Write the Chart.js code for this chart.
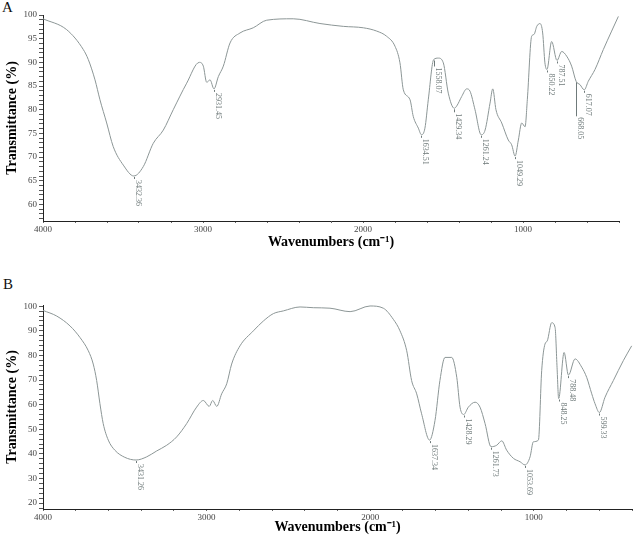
<!DOCTYPE html>
<html>
<head>
<meta charset="utf-8">
<script src="https://cdn.jsdelivr.net/npm/chart.js@4.4.1/dist/chart.umd.min.js"></script>
<style>
  html, body { margin:0; padding:0; background:#fff; }
  body { width:634px; height:539px; position:relative; overflow:hidden; }
  .panel { position:absolute; left:0; width:634px; }
  .letter { position:absolute; font-family:"Liberation Serif","Times New Roman",serif; font-size:15px; line-height:15px; color:#111; }
</style>
</head>
<body>
<div class="letter" style="left:2px;top:0px;">A</div>
<div class="letter" style="left:3px;top:277px;">B</div>
<div class="panel" style="top:0px;height:251px;"><canvas id="chartA" width="634" height="251"></canvas></div>
<div class="panel" style="top:270px;height:269px;"><canvas id="chartB" width="634" height="269"></canvas></div>
<script>
// ---------- Data ----------
const xTickLabels = [4000, 3000, 2000, 1000];
const yTickLabelsA = [60, 65, 70, 75, 80, 85, 90, 95, 100];
const yTickLabelsB = [20, 30, 40, 50, 60, 70, 80, 90, 100];

// Panel A spectrum: wavenumber (cm-1) and transmittance (%)
const wavenumbersA = [4000,3852,3748,3717,3675,3644,3602,3561,3498,3432.36,3373,3311,3248,3186,3102,3023,2998,2977,2956,2931.45,2904,2873,2831,2769,2686,2602,2436,2269,2123,1998,1914,1852,1800,1769,1748,1706,1686,1654,1634.51,1613,1592,1558.07,1529,1498,1467,1429.34,1414,1383,1352,1331,1300,1261.24,1237,1206,1189,1169,1133,1092,1071,1049.29,1029,1008,987,973,946,931,914,894,877,863,850.22,821,787.51,758,727,696,668.05,644,617.07,592,550,498,446,404];
const transmittanceA = [99.2,96.9,92.7,90.6,86.3,82.1,77.2,72.2,68.3,66.0,68.0,72.9,75.7,80.0,85.6,90.0,89.2,85.8,86.3,84.4,87.0,89.2,94.1,96.2,97.3,98.9,99.2,98.2,97.6,97.3,96.6,95.5,93.4,89.9,84.2,82.1,78.6,76.1,74.7,76.1,82.1,90.6,90.9,89.9,83.5,80.3,80.8,82.8,84.4,83.9,80.0,74.7,75.7,81.4,84.4,80.0,77.2,73.6,72.6,70.2,73.6,77.2,76.4,82.1,95.5,95.9,97.6,98.2,96.2,89.9,88.5,94.4,90.4,92.3,91.3,89.2,86.0,85.3,84.2,86.0,88.5,92.7,96.6,99.7];
const peakLabelsA = ['3432.36','2931.45','1634.51','1558.07','1429.34','1261.24','1049.29','850.22','787.51','668.05','617.07'];

// Panel B spectrum
const wavenumbersB = [4000,3916,3835,3774,3723,3693,3672,3652,3632,3601,3561,3500,3431.26,3366,3305,3244,3183,3122,3061,3020,2984,2963,2938,2908,2877,2847,2796,2714,2653,2592,2531,2429,2348,2246,2123,2001,1920,1859,1818,1777,1747,1716,1686,1637.34,1604,1574,1543,1502,1471,1451,1428.29,1400,1359,1329,1298,1261.73,1227,1196,1166,1125,1084,1053.69,1023,1003,972,952,932,918,891,870,858,848.25,815,788.48,748,707,677,646,626,599.33,565,514,453,402];
const transmittanceB = [98.3,96.0,92.0,87.3,81.9,76.5,69.8,60.4,52.3,45.6,41.5,38.6,37.5,38.8,41.2,43.5,46.9,52.3,59.0,61.7,59.3,61.7,59.3,64.4,68.5,76.5,83.9,90.0,94.0,97.0,98.1,99.7,99.4,99.2,97.8,100.1,99.2,94.7,90.0,81.9,69.8,64.4,56.3,45.6,53.6,69.8,79.2,79.2,71.1,59.0,56.0,59.0,61.0,59.0,52.3,42.9,43.5,45.3,41.5,38.2,36.8,35.5,38.8,44.9,45.6,73.8,84.6,85.9,93.3,91.3,75.0,62.5,81.2,72.0,78.6,75.2,71.1,64.4,60.4,56.8,63.0,69.8,77.9,83.9];
const peakLabelsB = ['3431.26','1637.34','1428.29','1261.73','1053.69','848.25','788.48','599.33'];

// ---------- Styling ----------
const SERIF = '"Liberation Serif","Times New Roman",serif';
const LINE_COLOR = '#8c9696';
const LABEL_COLOR = '#6f7a7a';

function toPoints(xs, ys) { return xs.map((x, i) => ({ x: x, y: ys[i] })); }
function stepValues(from, to, step) { const out = []; for (let v = from; v <= to + 1e-9; v += step) out.push(Math.round(v * 100) / 100); return out; }

const peakPlugin = {
  id: 'peakLabels',
  afterDatasetsDraw(chart, args, opts) {
    if (!opts || !opts.labels) return;
    const ctx = chart.ctx, xs = chart.scales.x, ys = chart.scales.y;
    const data = chart.data.datasets[0].data;
    ctx.save();
    ctx.font = '8px ' + SERIF;
    ctx.fillStyle = LABEL_COLOR;
    ctx.strokeStyle = LABEL_COLOR;
    ctx.lineWidth = 1;
    opts.labels.forEach((lab, i) => {
      const wn = parseFloat(lab);
      const pt = data.find(d => Math.abs(d.x - wn) < 1e-6);
      if (!pt) return;
      const px = Math.round(xs.getPixelForValue(wn)) + 0.5;
      const py = ys.getPixelForValue(pt.y);
      const lead = (opts.leaders && opts.leaders[i]) || 3;
      ctx.beginPath();
      ctx.moveTo(px, py + 1);
      ctx.lineTo(px, py + lead);
      ctx.stroke();
      ctx.save();
      ctx.translate(px + 3.5, py + lead + 1);
      ctx.rotate(Math.PI / 2);
      ctx.textAlign = 'left';
      ctx.textBaseline = 'middle';
      ctx.fillText(lab, 0, 0);
      ctx.restore();
    });
    ctx.restore();
  }
};

function makeChart(canvasId, xs, ys, yMin, yMax, yStep, yLabels, peaks, leaders, pad, xAxisH) {
  return new Chart(document.getElementById(canvasId), {
    type: 'line',
    data: {
      datasets: [{
        data: toPoints(xs, ys),
        borderColor: LINE_COLOR,
        borderWidth: 1,
        pointRadius: 0,
        fill: false,
        cubicInterpolationMode: 'monotone',
        clip: false
      }]
    },
    options: {
      responsive: false,
      animation: false,
      devicePixelRatio: 1,
      parsing: false,
      layout: { padding: pad },
      plugins: {
        legend: { display: false },
        tooltip: { enabled: false },
        peakLabels: { labels: peaks, leaders: leaders }
      },
      scales: {
        x: {
          type: 'linear',
          reverse: true,
          min: 400,
          max: 4000,
          afterBuildTicks: s => { s.ticks = stepValues(400, 4000, 200).map(v => ({ value: v })); },
          afterFit: s => { s.height = xAxisH; },
          ticks: {
            autoSkip: false, maxRotation: 0, padding: 1, color: '#444',
            font: { family: SERIF, size: 9 },
            callback: v => xTickLabels.includes(v) ? String(v) : ''
          },
          grid: { drawOnChartArea: false, tickLength: 2, color: '#666' },
          border: { display: true, color: '#222', width: 1 },
          title: {
            display: true, text: 'Wavenumbers (cm⁻¹)', color: '#000',
            font: { family: SERIF, size: 14, weight: 'bold' },
            padding: { top: 0, bottom: 0 }
          }
        },
        y: {
          type: 'linear',
          min: yMin,
          max: yMax,
          afterBuildTicks: s => { s.ticks = stepValues(Math.ceil(yMin / yStep) * yStep, Math.floor(yMax), yStep).map(v => ({ value: v })); },
          afterFit: s => { s.width = 43; },
          ticks: {
            autoSkip: false, padding: 2, color: '#444',
            font: { family: SERIF, size: 9 },
            callback: v => yLabels.includes(v) ? String(v) : ''
          },
          grid: { drawOnChartArea: false, tickLength: 4, color: '#555' },
          border: { display: true, color: '#222', width: 1 },
          title: {
            display: true, text: 'Transmittance (%)', color: '#000',
            font: { family: SERIF, size: 14, weight: 'bold' },
            padding: { top: 4, bottom: 0 }
          }
        }
      }
    },
    plugins: [peakPlugin]
  });
}

makeChart('chartA', wavenumbersA, transmittanceA, 56.5, 100, 1, yTickLabelsA, peakLabelsA,
  [3, 3, 3, 7, 4, 3, 3, 3, 3, 35, 3], { top: 15, right: 15, bottom: 0, left: 0 }, 30);
makeChart('chartB', wavenumbersB, transmittanceB, 17.6, 100.5, 2, yTickLabelsB, peakLabelsB,
  [3, 3, 3, 3, 3, 3, 3, 3], { top: 35, right: 2, bottom: 3, left: 0 }, 27);
</script>
</body>
</html>
